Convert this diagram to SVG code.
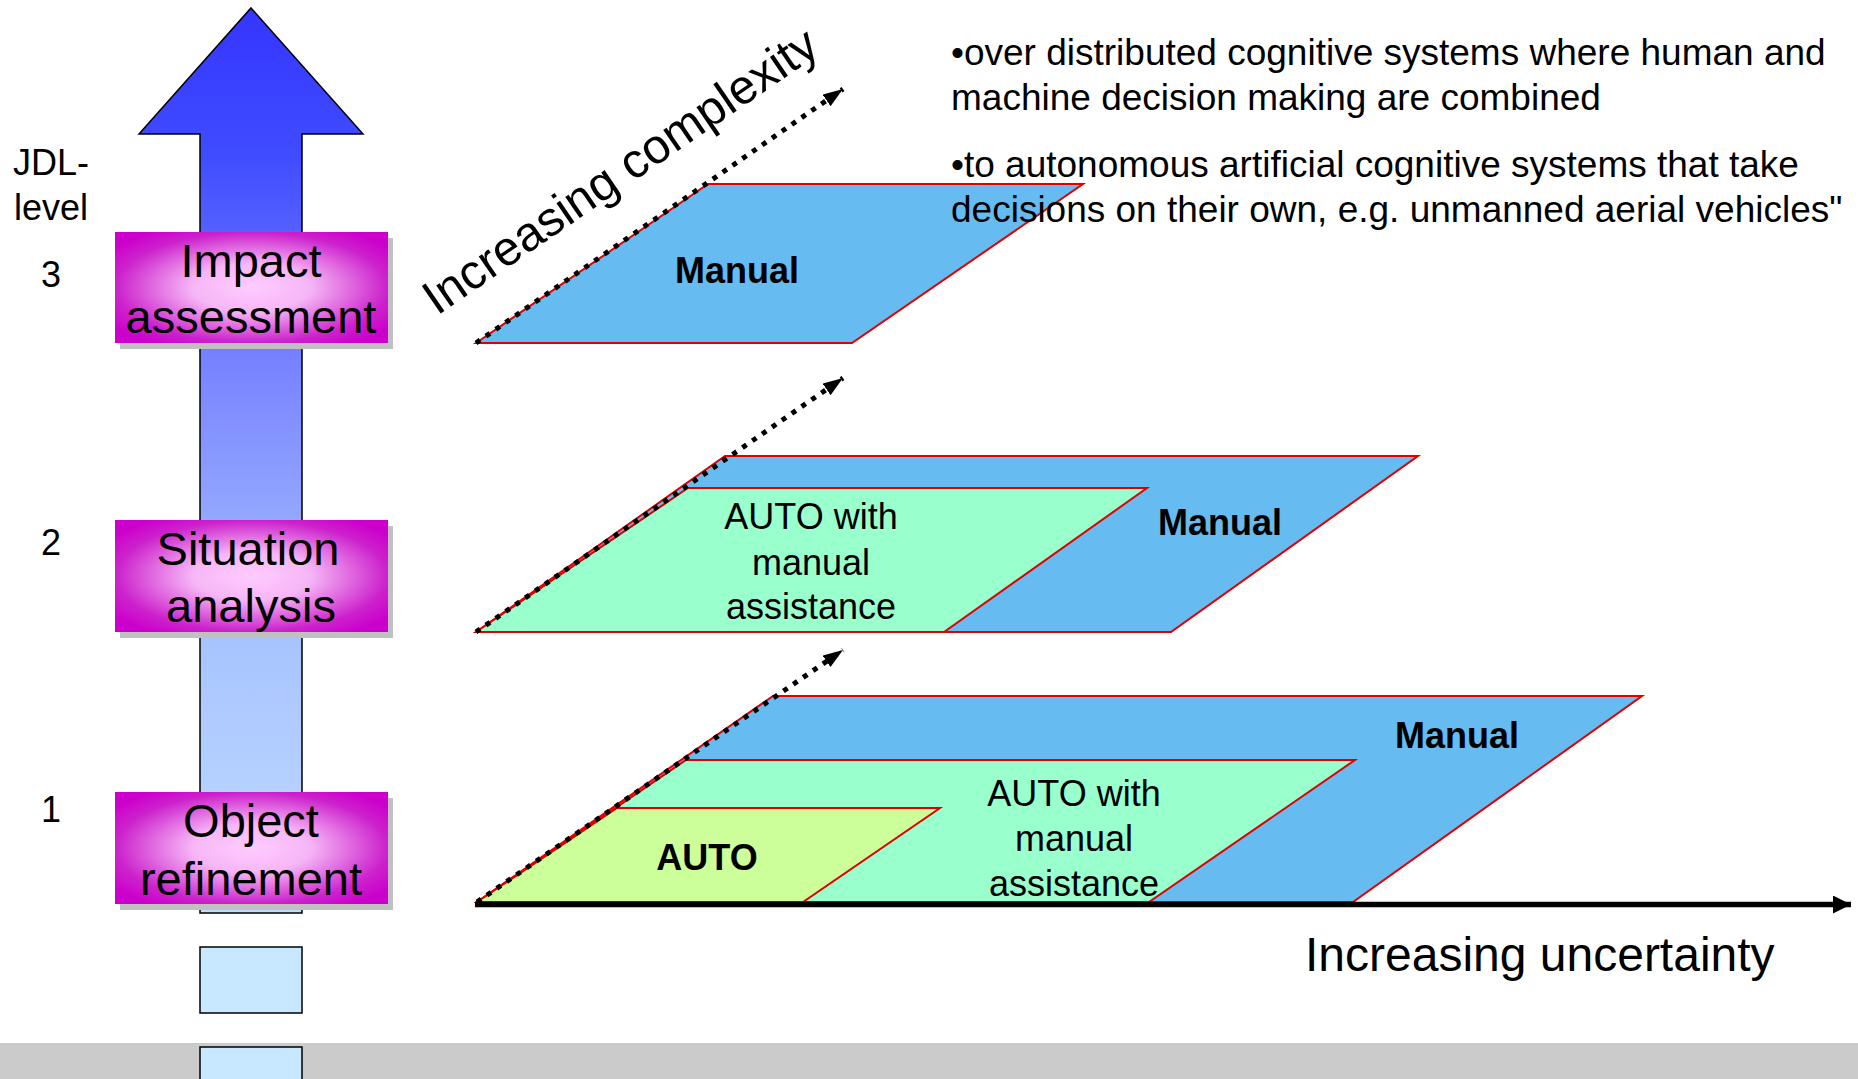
<svg xmlns="http://www.w3.org/2000/svg" width="1858" height="1079" viewBox="0 0 1858 1079">
<style>
text{font-family:"Liberation Sans",Arial,sans-serif;fill:#000}
.lvl{font-size:36px;text-anchor:middle}
.box{font-size:47px;text-anchor:middle}
.bold{font-size:36px;font-weight:bold;text-anchor:middle}
.norm{font-size:36px;text-anchor:middle}
.bul{font-size:37px}
.par{stroke:#e00000;stroke-width:2;stroke-linejoin:miter}
.blue{fill:#66bbf0}
.green{fill:#99ffcc}
.yg{fill:#ccff99}
.dot{stroke:#000;stroke-width:5;stroke-dasharray:5 7;fill:none;marker-end:url(#ah)}
.shadow{fill:#c0c0c0}
.mbox{fill:url(#mg)}
.small{fill:#c8e8ff;stroke:#000;stroke-width:1.5}
</style>
<defs>
<linearGradient id="shaft" gradientUnits="userSpaceOnUse" x1="0" y1="8" x2="0" y2="913">
<stop offset="0" stop-color="#3535ff"/>
<stop offset="0.16" stop-color="#3f4cff"/>
<stop offset="0.41" stop-color="#7b87ff"/>
<stop offset="0.7" stop-color="#a8c4ff"/>
<stop offset="1" stop-color="#c0dcff"/>
</linearGradient>
<radialGradient id="mg" cx="0.5" cy="0.5" r="0.62">
<stop offset="0" stop-color="#ffccff"/>
<stop offset="0.35" stop-color="#f6b6f6"/>
<stop offset="0.8" stop-color="#cc22cc"/>
<stop offset="1" stop-color="#cc00cc"/>
</radialGradient>
<marker id="ah" markerUnits="userSpaceOnUse" markerWidth="22" markerHeight="16" refX="20" refY="7" orient="auto">
<path d="M0,0 L20,7 L0,14 Z" fill="#000"/>
</marker>
<marker id="ax" markerUnits="userSpaceOnUse" markerWidth="20" markerHeight="20" refX="18" refY="9" orient="auto">
<path d="M0,0 L18,9 L0,18 Z" fill="#000"/>
</marker>
</defs>

<rect id="band" x="0" y="1043" width="1858" height="36" fill="#cbcbcb"/>

<g id="jdl-arrow">
<path d="M251,8 L363,134 L302,134 L302,913 L200,913 L200,134 L139,134 Z" fill="url(#shaft)" stroke="#000" stroke-width="1.5"/>
<rect class="small" x="200" y="947" width="102" height="66"/>
<rect class="small" x="200" y="1047" width="102" height="40"/>
</g>

<g id="jdl-label">
<text class="lvl" x="51" y="175">JDL-</text>
<text class="lvl" x="51" y="220">level</text>
<text class="lvl" x="51" y="287">3</text>
<text class="lvl" x="51" y="555">2</text>
<text class="lvl" x="51" y="822">1</text>
</g>

<g id="impact">
<rect class="shadow" x="120" y="238" width="273" height="111"/>
<rect class="mbox" x="115" y="232" width="273" height="111"/>
<text class="box" x="251" y="277">Impact</text>
<text class="box" x="251" y="333">assessment</text>
</g>
<g id="situation">
<rect class="shadow" x="120" y="526" width="273" height="112"/>
<rect class="mbox" x="115" y="520" width="273" height="112"/>
<text class="box" x="248" y="565">Situation</text>
<text class="box" x="251" y="622">analysis</text>
</g>
<g id="object">
<rect class="shadow" x="120" y="798" width="273" height="112"/>
<rect class="mbox" x="115" y="792" width="273" height="112"/>
<text class="box" x="251" y="837">Object</text>
<text class="box" x="251" y="895">refinement</text>
</g>

<g id="level3">
<polygon class="par blue" points="476,343 708,184 1083,184 852,343"/>
<text class="bold" x="737" y="283">Manual</text>
</g>
<g id="level2">
<polygon class="par blue" points="476,632 725,456 1418,456 1171,632"/>
<polygon class="par green" points="476,632 688,488 1147,488 944,632"/>
<text class="bold" x="1220" y="535">Manual</text>
<text class="norm" x="811" y="529">AUTO with</text>
<text class="norm" x="811" y="575">manual</text>
<text class="norm" x="811" y="619">assistance</text>
</g>
<g id="level1">
<polygon class="par blue" points="477,902 773,696 1642,696 1353,902"/>
<polygon class="par green" points="477,902 686,760 1355,760 1149,902"/>
<polygon class="par yg" points="477,902 617,808 940,808 803,902"/>
<text class="bold" x="1457" y="748">Manual</text>
<text class="norm" x="1074" y="806">AUTO with</text>
<text class="norm" x="1074" y="851">manual</text>
<text class="norm" x="1074" y="896">assistance</text>
<text class="bold" x="707" y="870">AUTO</text>
</g>

<g id="connectors">
<line x1="475" y1="904.5" x2="1851" y2="904.5" stroke="#000" stroke-width="5.5" marker-end="url(#ax)"/>
<line class="dot" x1="476" y1="343" x2="843" y2="89"/>
<line class="dot" x1="476" y1="632" x2="843" y2="378"/>
<line class="dot" x1="477" y1="902" x2="843" y2="650"/>
</g>

<g id="axis-labels">
<text font-size="48.5" transform="translate(437,316) rotate(-34.4)">Increasing complexity</text>
<text font-size="48" x="1305" y="971">Increasing uncertainty</text>
</g>

<g id="notes">
<text class="bul" x="951" y="65">•over distributed cognitive systems where human and</text>
<text class="bul" x="951" y="110">machine decision making are combined</text>
<text class="bul" x="951" y="177">•to autonomous artificial cognitive systems that take</text>
<text class="bul" x="951" y="222">decisions on their own, e.g. unmanned aerial vehicles"</text>
</g>
</svg>
